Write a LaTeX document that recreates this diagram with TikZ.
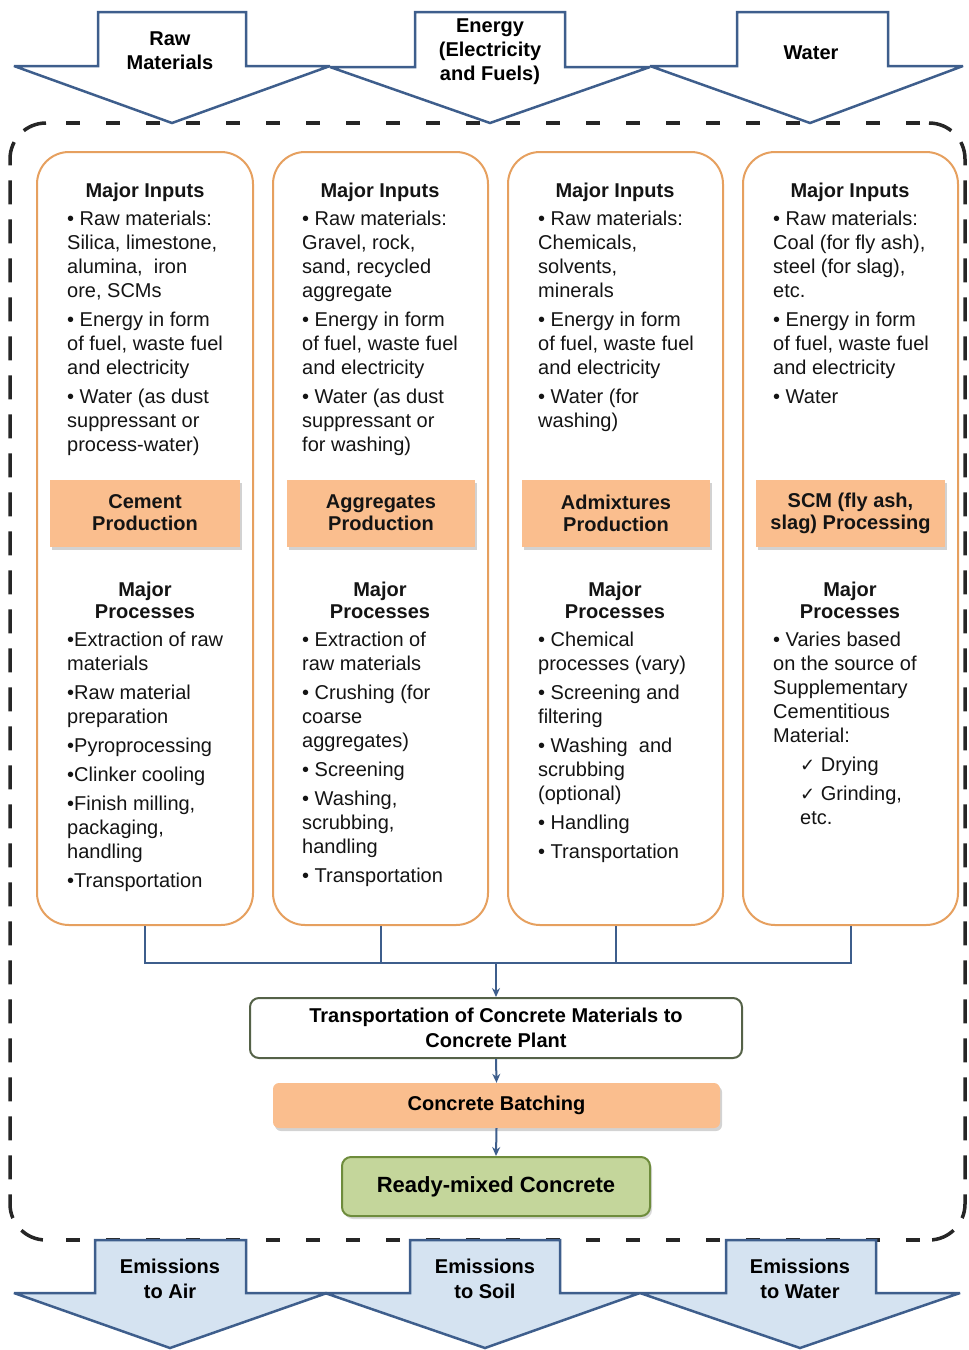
\documentclass[tikz,border=0pt]{standalone}
\usepackage{fontspec}
\setmainfont{Liberation Sans}
\newfontfamily\symfont{DejaVu Sans}
\usetikzlibrary{arrows.meta,shadows}

\definecolor{flowblue}{RGB}{62,94,140}
\definecolor{paleblue}{RGB}{213,227,241}
\definecolor{colorange}{RGB}{230,160,95}
\definecolor{bandorange}{RGB}{250,190,142}
\definecolor{mixgreen}{RGB}{196,214,155}
\definecolor{mixborder}{RGB}{110,140,60}
\definecolor{plantborder}{RGB}{85,98,72}
\definecolor{textc}{RGB}{20,20,20}

\newcommand\bul{\textbullet\ }
\newcommand\chk{{\symfont\fontsize{18}{24}\selectfont ✓}\ }

\begin{document}
\begin{tikzpicture}[x=1pt,y=-1pt,
  inarrow/.style={draw=flowblue,line width=2.5pt,fill=white,line join=miter,miter limit=3},
  outarrow/.style={draw=flowblue,line width=2.5pt,fill=paleblue,line join=miter,miter limit=3},
  framedash/.style={draw=black!85,line width=3.5pt},
  colbox/.style={draw=colorange,line width=2pt,fill=white,rounded corners=32pt,inner sep=0pt},
  band/.style={fill=bandorange,draw=none,inner sep=0pt,align=center,text=textc,
    font=\bfseries\fontsize{20}{22}\selectfont,
    drop shadow={shadow xshift=2pt,shadow yshift=-3pt,opacity=0.35}},
  head/.style={inner sep=0pt,align=center,text=textc,font=\bfseries\fontsize{20}{22}\selectfont},
  blk/.style={anchor=north west,align=left,inner sep=0pt,text=textc,font=\fontsize{20}{24}\selectfont},
  label/.style={inner sep=0pt,align=center,text=black,font=\bfseries\fontsize{20}{24}\selectfont},
  bus/.style={draw=flowblue,line width=2pt},
  flow/.style={draw=flowblue,line width=2pt,-{Stealth[length=9pt,width=8pt]}},
]
\useasboundingbox (0,0) rectangle (969,1350);

% dashed system boundary: long dashes down the sides, short ones across
\draw[framedash,dash pattern=on 24pt off 15pt,rounded corners=36pt]
  (46,123) -- (10,123) -- (10,1240) -- (46,1240);
\draw[framedash,dash pattern=on 24pt off 15pt,rounded corners=36pt]
  (929,123) -- (965,123) -- (965,1240) -- (929,1240);
\draw[framedash,dash pattern=on 14pt off 26pt,dash phase=-20pt] (46,123) -- (929,123);
\draw[framedash,dash pattern=on 14pt off 26pt,dash phase=-20pt] (46,1240) -- (929,1240);

% input arrows
\draw[inarrow] (98,12) -- (246,12) -- (246,66) -- (330,66) -- (172,123) -- (14,66) -- (98,66) -- cycle;
\draw[inarrow] (415,12) -- (565,12) -- (565,67) -- (650,67) -- (490,123) -- (330,67) -- (415,67) -- cycle;
\draw[inarrow] (737,12) -- (888,12) -- (888,66) -- (963,66) -- (810,123) -- (650,66) -- (737,66) -- cycle;
\node[label] (inRaw) at (170,51) {Raw\\Materials};
\node[label] (inEnergy) at (490,52) {Energy\\(Electricity\\and Fuels)};
\node[label] (inWater) at (811,53) {Water};

% output arrows
\draw[outarrow] (95,1240) -- (246,1240) -- (246,1293) -- (327,1293) -- (170,1348) -- (14,1293) -- (95,1293) -- cycle;
\draw[outarrow] (410,1240) -- (560,1240) -- (560,1293) -- (640,1293) -- (485,1348) -- (325,1293) -- (410,1293) -- cycle;
\draw[outarrow] (726,1240) -- (876,1240) -- (876,1293) -- (960,1293) -- (800,1348) -- (640,1293) -- (726,1293) -- cycle;
\node[label,font=\bfseries\fontsize{20}{25}\selectfont] (outAir) at (170,1279) {Emissions\\to Air};
\node[label,font=\bfseries\fontsize{20}{25}\selectfont] (outSoil) at (485,1279) {Emissions\\to Soil};
\node[label,font=\bfseries\fontsize{20}{25}\selectfont] (outWater) at (800,1279) {Emissions\\to Water};

% material columns
\node[colbox,minimum width=216pt,minimum height=773pt] (col1) at (145,538.5) {};
\node[colbox,minimum width=215pt,minimum height=773pt] (col2) at (380.5,538.5) {};
\node[colbox,minimum width=215pt,minimum height=773pt] (col3) at (615.5,538.5) {};
\node[colbox,minimum width=215pt,minimum height=773pt] (col4) at (850.5,538.5) {};

% column headings
\node[head] (in1) at (145,192) {Major Inputs};
\node[head] (in2) at (380,192) {Major Inputs};
\node[head] (in3) at (615,192) {Major Inputs};
\node[head] (in4) at (850,192) {Major Inputs};
\node[head] (pr1) at (145,600) {Major\\Processes};
\node[head] (pr2) at (380,600) {Major\\Processes};
\node[head] (pr3) at (615,600) {Major\\Processes};
\node[head] (pr4) at (850,600) {Major\\Processes};

% production bands
\node[band,minimum width=190pt,minimum height=67pt] (band1) at (145,513) {Cement\\Production};
\node[band,minimum width=188pt,minimum height=67pt] (band2) at (381,513) {Aggregates\\Production};
\node[band,minimum width=188pt,minimum height=67pt] (band3) at (616,513) {Admixtures\\Production};
\node[band,minimum width=189pt,minimum height=67pt] (band4) at (850.5,513) {SCM (fly ash,\\slag) Processing};

% inputs
\node[blk] (inp1) at (67,208) {\strut\bul Raw materials:\\ Silica, limestone,\\ alumina,\ \ iron\\ ore, SCMs\\[5pt]
  \bul Energy in form\\ of fuel, waste fuel\\ and electricity\\[5pt]
  \bul Water (as dust\\ suppressant or\\ process-water)};
\node[blk] (inp2) at (302,208) {\strut\bul Raw materials:\\ Gravel, rock,\\ sand, recycled\\ aggregate\\[5pt]
  \bul Energy in form\\ of fuel, waste fuel\\ and electricity\\[5pt]
  \bul Water (as dust\\ suppressant or\\ for washing)};
\node[blk] (inp3) at (538,208) {\strut\bul Raw materials:\\ Chemicals,\\ solvents,\\ minerals\\[5pt]
  \bul Energy in form\\ of fuel, waste fuel\\ and electricity\\[5pt]
  \bul Water (for\\ washing)};
\node[blk] (inp4) at (773,208) {\strut\bul Raw materials:\\ Coal (for fly ash),\\ steel (for slag),\\ etc.\\[5pt]
  \bul Energy in form\\ of fuel, waste fuel\\ and electricity\\[5pt]
  \bul Water};

% processes
\node[blk] (proc1) at (67,629) {\strut\textbullet{}Extraction of raw\\ materials\\[5pt]
  \textbullet{}Raw material\\ preparation\\[5pt]
  \textbullet{}Pyroprocessing\\[5pt]
  \textbullet{}Clinker cooling\\[5pt]
  \textbullet{}Finish milling,\\ packaging,\\ handling\\[5pt]
  \textbullet{}Transportation};
\node[blk] (proc2) at (302,629) {\strut\bul Extraction of\\ raw materials\\[5pt]
  \bul Crushing (for\\ coarse\\ aggregates)\\[5pt]
  \bul Screening\\[5pt]
  \bul Washing,\\ scrubbing,\\ handling\\[5pt]
  \bul Transportation};
\node[blk] (proc3) at (538,629) {\strut\bul Chemical\\ processes (vary)\\[5pt]
  \bul Screening and\\ filtering\\[5pt]
  \bul Washing\ \ and\\ scrubbing\\ (optional)\\[5pt]
  \bul Handling\\[5pt]
  \bul Transportation};
\node[blk] (proc4) at (773,629) {\strut\bul Varies based\\ on the source of\\ Supplementary\\ Cementitious\\ Material:\\[5pt]
  \hspace*{27pt}\chk Drying\\[5pt]
  \hspace*{27pt}\chk Grinding,\\
  \hspace*{27pt}etc.};

% concrete plant chain
\node[draw=plantborder,line width=2pt,fill=white,rounded corners=9pt,minimum width=492pt,minimum height=60pt,
  align=center,inner sep=0pt,text=black,font=\bfseries\fontsize{20}{25}\selectfont]
  (plant) at (496,1028) {Transportation of Concrete Materials to\\Concrete Plant};
\node[fill=bandorange,rounded corners=6pt,minimum width=447pt,minimum height=45pt,inner sep=0pt,
  text=black,font=\bfseries\fontsize{20}{24}\selectfont,
  drop shadow={shadow xshift=2pt,shadow yshift=-3pt,opacity=0.35}]
  (batch) at (496.5,1105.5) {Concrete Batching};
\node[draw=mixborder,line width=2pt,fill=mixgreen,rounded corners=9pt,minimum width=308pt,minimum height=59pt,
  inner sep=0pt,text=black,font=\bfseries\fontsize{22}{26}\selectfont,
  drop shadow={shadow xshift=2pt,shadow yshift=-3pt,opacity=0.3}]
  (ready) at (496,1186.5) {Ready-mixed Concrete};

% collector bus
\coordinate (hub) at (496,963);
\draw[bus] (col1.south) |- (hub);
\draw[bus] (col4.south) |- (hub);
\draw[bus] (col2.south) -- (col2.south |- hub);
\draw[bus] (col3.south) -- (col3.south |- hub);
\draw[flow] (hub) -- (plant.north);
\draw[flow] (plant.south) -- (batch.north);
\draw[flow] (batch.south) -- (ready.north);
\end{tikzpicture}
\end{document}
